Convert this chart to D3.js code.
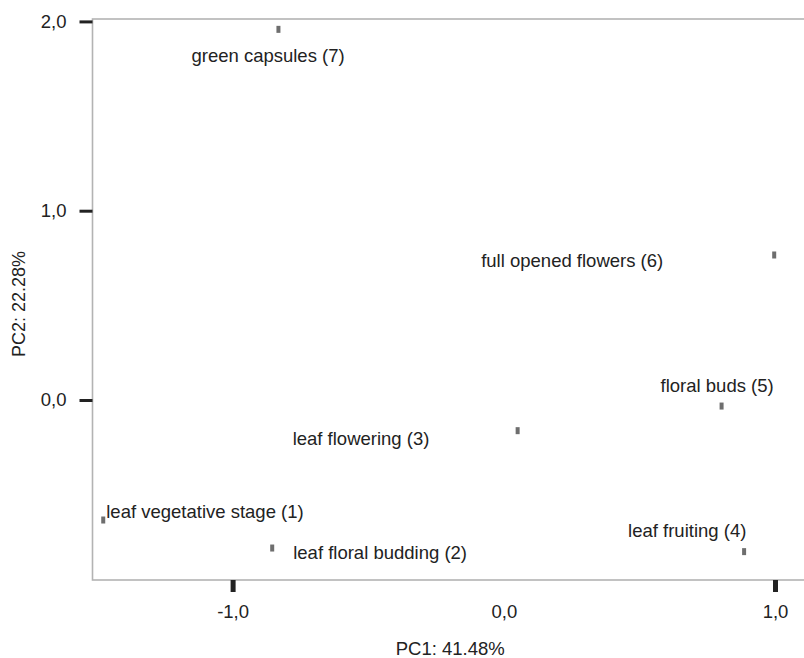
<!DOCTYPE html>
<html>
<head>
<meta charset="utf-8">
<script src="https://cdn.jsdelivr.net/npm/d3@7"></script>
<style>
  html, body { margin: 0; padding: 0; background: #fff; }
  svg { display: block; }
  text { font-family: "Liberation Sans", Arial, sans-serif; fill: #222; }
</style>
</head>
<body>
<svg id="chart" width="804" height="658"></svg>
<script>
// ---- data ----
const labels = [
  "leaf vegetative stage (1)",
  "leaf floral budding (2)",
  "leaf flowering (3)",
  "leaf fruiting (4)",
  "floral buds (5)",
  "full opened flowers (6)",
  "green capsules (7)"
];
const pc1 = [-1.477, -0.854, 0.051, 0.886, 0.803, 0.997, -0.831];
const pc2 = [-0.634, -0.782, -0.162, -0.801, -0.032, 0.766, 1.958];
const xTicks = [-1, 0, 1];
const yTicks = [0, 1, 2];
const xTitle = "PC1: 41.48%";
const yTitle = "PC2: 22.28%";

// label placement (pixel offsets from point, layout only)
const labelDx = [3, 21, -225, -116, -61, -293, -87];
const labelDy = [-2, 11, 14, -15, -14, 12, 33];

// ---- layout ----
const svg = d3.select("#chart");
const pLeft = 92.5, pRight = 810, pTop = 19, pBottom = 580;

const x = d3.scaleLinear().domain([-1.5166, 1.129]).range([pLeft, pRight]);
const y = d3.scaleLinear().domain([-0.9509, 2.0127]).range([pBottom, pTop]);

const fmt = d => d3.format(".1f")(d).replace(".", ",").replace("\u2212", "-");

// frame
svg.append("rect")
  .attr("x", pLeft).attr("y", pTop)
  .attr("width", pRight - pLeft).attr("height", pBottom - pTop)
  .attr("fill", "none").attr("stroke", "#b3b3b3").attr("stroke-width", 1.6);

// y axis
const gy = svg.append("g").attr("transform", `translate(${pLeft},0)`)
  .call(d3.axisLeft(y).tickValues(yTicks).tickFormat(fmt).tickSize(13).tickPadding(13));
gy.select(".domain").remove();
gy.selectAll(".tick line").attr("stroke", "#222").attr("stroke-width", 3);
gy.selectAll(".tick text").style("font-size", "18.5px").attr("fill", "#222")
  .style("font-family", "'Liberation Sans', Arial, sans-serif");

// x axis
const gx = svg.append("g").attr("transform", `translate(0,${pBottom})`)
  .call(d3.axisBottom(x).tickValues(xTicks).tickFormat(fmt).tickSize(12).tickPadding(13));
gx.select(".domain").remove();
gx.selectAll(".tick line").attr("stroke", "#222").attr("stroke-width", 5)
  .attr("opacity", d => d === 0 ? 0 : 1);
gx.selectAll(".tick text").style("font-size", "18.5px").attr("fill", "#222")
  .style("font-family", "'Liberation Sans', Arial, sans-serif");

// axis titles
svg.append("text")
  .attr("x", (pLeft + 804) / 2 + 2).attr("y", 655)
  .attr("text-anchor", "middle").style("font-size", "18.5px")
  .text(xTitle);
svg.append("text")
  .attr("transform", `translate(25,304) rotate(-90)`)
  .attr("text-anchor", "middle").style("font-size", "18px")
  .text(yTitle);

// points
const pts = labels.map((l, i) => ({ l, x: pc1[i], y: pc2[i], dx: labelDx[i], dy: labelDy[i] }));

svg.append("g").selectAll("rect").data(pts).join("rect")
  .attr("x", d => x(d.x) - 2).attr("y", d => y(d.y) - 3.5)
  .attr("width", 4).attr("height", 7)
  .attr("fill", "#555").attr("opacity", 0.85);

svg.append("g").selectAll("text").data(pts).join("text")
  .attr("x", d => x(d.x) + d.dx).attr("y", d => y(d.y) + d.dy)
  .style("font-size", "18.5px")
  .text(d => d.l);
</script>
</body>
</html>
